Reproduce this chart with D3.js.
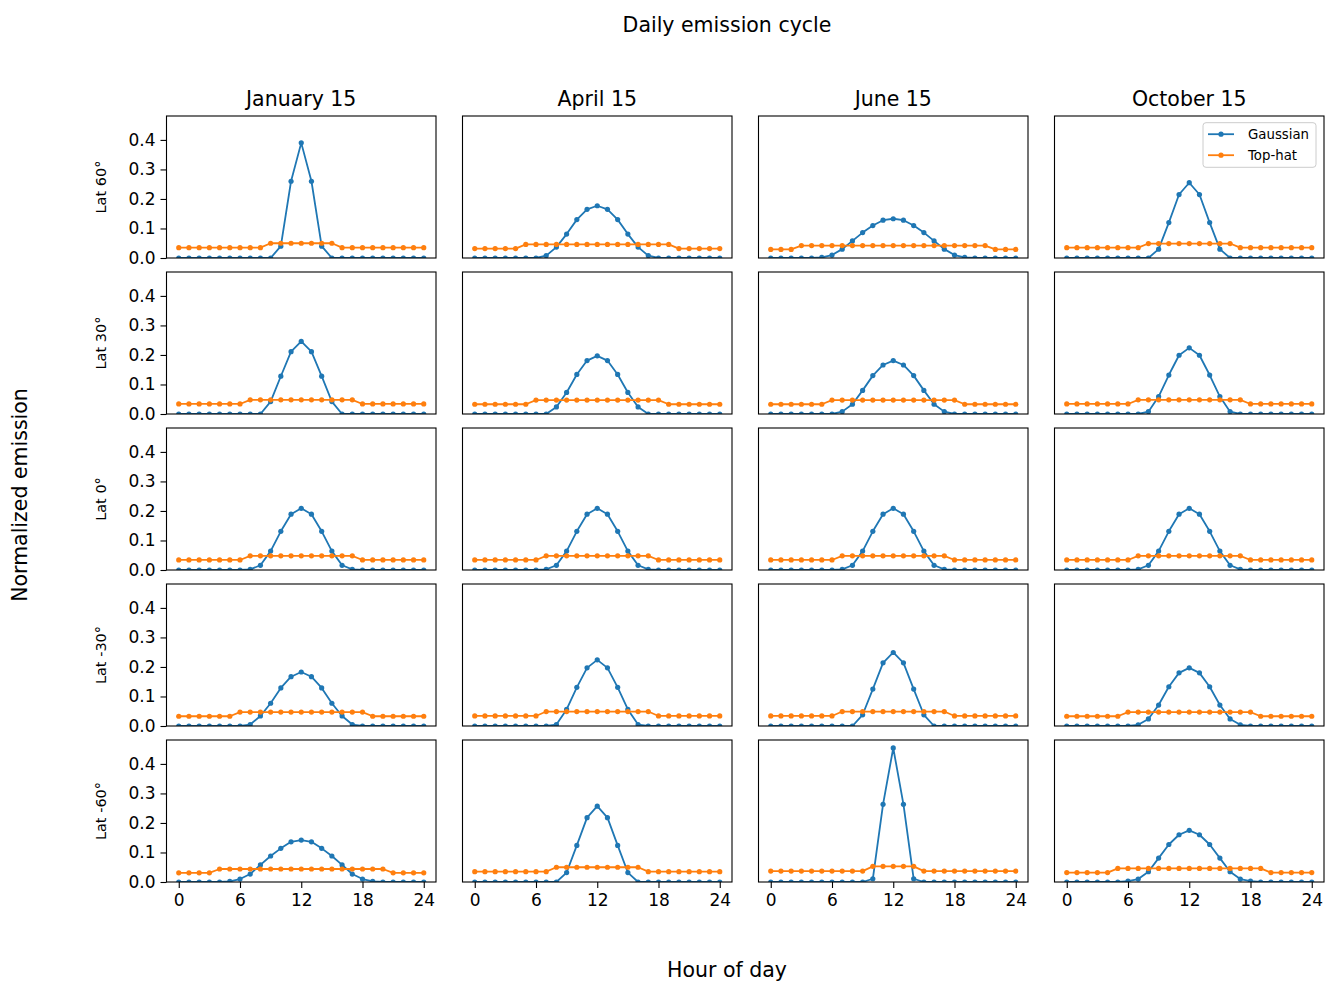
<!DOCTYPE html>
<html>
<head>
<meta charset="utf-8">
<script src="https://cdn.jsdelivr.net/npm/d3@7/dist/d3.min.js"></script>
<style>
  html, body { margin: 0; padding: 0; background: #fff; }
  text { font-family: "DejaVu Sans", sans-serif; fill: #000; }
</style>
</head>
<body>
<svg id="chart" width="1325" height="981"></svg>
<script>
// ---------------- DATA ----------------
const hours = [0,1,2,3,4,5,6,7,8,9,10,11,12,13,14,15,16,17,18,19,20,21,22,23,24];
const monthTitles = ["January 15", "April 15", "June 15", "October 15"];
const latLabels = ["Lat 60°", "Lat 30°", "Lat 0°", "Lat -30°", "Lat -60°"];
const seriesNames = ["Gaussian", "Top-hat"];
const xTicks = [0, 6, 12, 18, 24];
const yTicks = [0.0, 0.1, 0.2, 0.3, 0.4];

// Gaussian series (per month, per latitude)
const gJanP60 = [0,0,0,0,0,0,0,0,0,0, .040,.260,.390,.260,.040, 0,0,0,0,0,0,0,0,0,0];
const gJanP30 = [0,0,0,0,0,0,0,0,0, .042,.128,.211,.246,.211,.128,.042, 0,0,0,0,0,0,0,0,0];
const gJanEq  = [0,0,0,0,0,0,0, .002,.016,.064,.131,.189,.209,.189,.131,.064,.016,.002, 0,0,0,0,0,0,0];
const gJanM30 = [0,0,0,0,0,0,0, .005,.034,.077,.129,.167,.183,.167,.129,.077,.034,.005, 0,0,0,0,0,0,0];
const gJanM60 = [0,0,0,0,0, .002,.010,.027,.058,.088,.114,.136,.142,.136,.114,.088,.058,.027,.010,.002, 0,0,0,0,0];

const gAprP60 = [0,0,0,0,0,0,0, .008,.037,.081,.130,.165,.177,.165,.130,.081,.037,.008, 0,0,0,0,0,0,0];
const gAprP30 = [0,0,0,0,0,0,0,0, .024,.073,.134,.181,.197,.181,.134,.073,.024, 0,0,0,0,0,0,0,0];
const gAprEq  = [0,0,0,0,0,0,0, .002,.016,.064,.131,.189,.209,.189,.131,.064,.016,.002, 0,0,0,0,0,0,0];
const gAprM30 = [0,0,0,0,0,0,0,0, .005,.056,.131,.197,.224,.197,.131,.056,.005, 0,0,0,0,0,0,0,0];
const gAprM60 = [0,0,0,0,0,0,0,0,0, .032,.124,.218,.257,.218,.124,.032, 0,0,0,0,0,0,0,0,0];

const gJunP60 = [0,0,0,0,0, .002,.010,.030,.058,.086,.110,.128,.133,.128,.110,.086,.058,.030,.010,.002, 0,0,0,0,0];
const gJunP30 = [0,0,0,0,0,0,0, .008,.033,.080,.130,.166,.181,.166,.130,.080,.033,.008, 0,0,0,0,0,0,0];
const gJunEq  = [0,0,0,0,0,0,0, .002,.016,.064,.131,.189,.209,.189,.131,.064,.016,.002, 0,0,0,0,0,0,0];
const gJunM30 = [0,0,0,0,0,0,0,0,0, .038,.125,.214,.249,.214,.125,.038, 0,0,0,0,0,0,0,0,0];
const gJunM60 = [0,0,0,0,0,0,0,0,0,0, .011,.263,.454,.263,.011, 0,0,0,0,0,0,0,0,0,0];

const gOctP60 = [0,0,0,0,0,0,0,0,0, .030,.120,.215,.255,.215,.120,.030, 0,0,0,0,0,0,0,0,0];
const gOctP30 = [0,0,0,0,0,0,0,0, .008,.059,.132,.199,.224,.199,.132,.059,.008, 0,0,0,0,0,0,0,0];
const gOctEq  = [0,0,0,0,0,0,0, .002,.016,.064,.131,.189,.209,.189,.131,.064,.016,.002, 0,0,0,0,0,0,0];
const gOctM30 = [0,0,0,0,0,0,0, .004,.024,.071,.133,.180,.197,.180,.133,.071,.024,.004, 0,0,0,0,0,0,0];
const gOctM60 = [0,0,0,0,0,0, .003,.010,.035,.081,.127,.160,.175,.160,.127,.081,.035,.010,.003, 0,0,0,0,0,0];

// Top-hat series
const tJanP60 = [.035,.035,.035,.035,.035,.035,.035,.035,.035, .050,.050,.050,.050,.050,.050,.050, .035,.035,.035,.035,.035,.035,.035,.035,.035];
const tJanP30 = [.034,.034,.034,.034,.034,.034,.034, .048,.048,.048,.048,.048,.048,.048,.048,.048,.048,.048, .034,.034,.034,.034,.034,.034,.034];
const tJanEq  = [.034,.034,.034,.034,.034,.034,.034, .048,.048,.048,.048,.048,.048,.048,.048,.048,.048,.048, .034,.034,.034,.034,.034,.034,.034];
const tJanM30 = [.033,.033,.033,.033,.033,.033, .047,.047,.047,.047,.047,.047,.047,.047,.047,.047,.047,.047,.047, .033,.033,.033,.033,.033,.033];
const tJanM60 = [.031,.031,.031,.031, .044,.044,.044,.044,.044,.044,.044,.044,.044,.044,.044,.044,.044,.044,.044,.044,.044, .031,.031,.031,.031];

const tAprP60 = [.032,.032,.032,.032,.032, .046,.046,.046,.046,.046,.046,.046,.046,.046,.046,.046,.046,.046,.046,.046, .032,.032,.032,.032,.032];
const tAprP30 = [.033,.033,.033,.033,.033,.033, .047,.047,.047,.047,.047,.047,.047,.047,.047,.047,.047,.047,.047, .033,.033,.033,.033,.033,.033];
const tAprEq  = [.034,.034,.034,.034,.034,.034,.034, .048,.048,.048,.048,.048,.048,.048,.048,.048,.048,.048, .034,.034,.034,.034,.034,.034,.034];
const tAprM30 = [.034,.034,.034,.034,.034,.034,.034, .049,.049,.049,.049,.049,.049,.049,.049,.049,.049,.049, .034,.034,.034,.034,.034,.034,.034];
const tAprM60 = [.035,.035,.035,.035,.035,.035,.035,.035, .050,.050,.050,.050,.050,.050,.050,.050,.050, .035,.035,.035,.035,.035,.035,.035,.035];

const tJunP60 = [.029,.029,.029, .042,.042,.042,.042,.042,.042,.042,.042,.042,.042,.042,.042,.042,.042,.042,.042,.042,.042,.042, .029,.029,.029];
const tJunP30 = [.033,.033,.033,.033,.033,.033, .047,.047,.047,.047,.047,.047,.047,.047,.047,.047,.047,.047,.047, .033,.033,.033,.033,.033,.033];
const tJunEq  = [.034,.034,.034,.034,.034,.034,.034, .048,.048,.048,.048,.048,.048,.048,.048,.048,.048,.048, .034,.034,.034,.034,.034,.034,.034];
const tJunM30 = [.034,.034,.034,.034,.034,.034,.034, .049,.049,.049,.049,.049,.049,.049,.049,.049,.049,.049, .034,.034,.034,.034,.034,.034,.034];
const tJunM60 = [.037,.037,.037,.037,.037,.037,.037,.037,.037,.037, .053,.053,.053,.053,.053, .037,.037,.037,.037,.037,.037,.037,.037,.037,.037];

const tOctP60 = [.035,.035,.035,.035,.035,.035,.035,.035, .049,.049,.049,.049,.049,.049,.049,.049,.049, .035,.035,.035,.035,.035,.035,.035,.035];
const tOctP30 = [.034,.034,.034,.034,.034,.034,.034, .048,.048,.048,.048,.048,.048,.048,.048,.048,.048,.048, .034,.034,.034,.034,.034,.034,.034];
const tOctEq  = [.034,.034,.034,.034,.034,.034,.034, .048,.048,.048,.048,.048,.048,.048,.048,.048,.048,.048, .034,.034,.034,.034,.034,.034,.034];
const tOctM30 = [.033,.033,.033,.033,.033,.033, .047,.047,.047,.047,.047,.047,.047,.047,.047,.047,.047,.047,.047, .033,.033,.033,.033,.033,.033];
const tOctM60 = [.032,.032,.032,.032,.032, .046,.046,.046,.046,.046,.046,.046,.046,.046,.046,.046,.046,.046,.046,.046, .032,.032,.032,.032,.032];

// table [latRow][monthCol] -> [gaussian, tophat]
const grid = [
  [[gJanP60,tJanP60],[gAprP60,tAprP60],[gJunP60,tJunP60],[gOctP60,tOctP60]],
  [[gJanP30,tJanP30],[gAprP30,tAprP30],[gJunP30,tJunP30],[gOctP30,tOctP30]],
  [[gJanEq, tJanEq ],[gAprEq, tAprEq ],[gJunEq, tJunEq ],[gOctEq, tOctEq ]],
  [[gJanM30,tJanM30],[gAprM30,tAprM30],[gJunM30,tJunM30],[gOctM30,tOctM30]],
  [[gJanM60,tJanM60],[gAprM60,tAprM60],[gJunM60,tJunM60],[gOctM60,tOctM60]]
];

// ---------------- LAYOUT ----------------
const colors = ["#1f77b4", "#ff7f0e"];
const panelW = 269.5, panelH = 142;
const colX = c => 166.5 + c * 296;
const rowY = r => 116 + r * 156;

const x = d3.scaleLinear().domain([-1.2, 25.2]).range([0, panelW]);
const y = d3.scaleLinear().domain([0, 0.481]).range([panelH, 0]);

const svg = d3.select("#chart");
svg.append("rect").attr("width", 1325).attr("height", 981).attr("fill", "#fff");

// Suptitle & shared labels
svg.append("text").attr("x", 727).attr("y", 32).attr("text-anchor", "middle")
  .style("font-size", "20.5px").text("Daily emission cycle");
svg.append("text").attr("x", 727).attr("y", 977).attr("text-anchor", "middle")
  .style("font-size", "20.5px").text("Hour of day");
svg.append("text").attr("transform", "translate(19.5,495) rotate(-90)")
  .attr("text-anchor", "middle").attr("dominant-baseline", "central")
  .style("font-size", "20.5px").text("Normalized emission");

const line = d3.line().x((d, i) => x(hours[i])).y(d => y(d));

grid.forEach((row, r) => {
  row.forEach((cell, c) => {
    const g = svg.append("g").attr("transform", `translate(${colX(c)},${rowY(r)})`);
    const clipId = `clip-${r}-${c}`;
    g.append("clipPath").attr("id", clipId)
      .append("rect").attr("x", 0).attr("y", 0).attr("width", panelW).attr("height", panelH);

    const plot = g.append("g").attr("clip-path", `url(#${clipId})`);
    cell.forEach((series, s) => {
      plot.append("path").datum(series)
        .attr("d", line).attr("fill", "none")
        .attr("stroke", colors[s]).attr("stroke-width", 1.8)
        .attr("stroke-linejoin", "round");
      plot.selectAll(null).data(series).enter().append("circle")
        .attr("cx", (d, i) => x(hours[i])).attr("cy", d => y(d))
        .attr("r", 2.6).attr("fill", colors[s]);
    });

    // Y axis on first column
    if (c === 0) {
      const ya = g.append("g").call(d3.axisLeft(y).tickValues(yTicks)
        .tickFormat(d3.format(".1f")).tickSize(6).tickPadding(5));
      ya.select(".domain").remove();
      ya.selectAll("line").attr("stroke", "#000").attr("stroke-width", 1.1);
      ya.selectAll("text").style("font-size", "17px").style("font-family", "DejaVu Sans");
      g.append("text")
        .attr("transform", `translate(${100.5 - colX(0)},${panelH / 2}) rotate(-90)`)
        .attr("text-anchor", "middle").attr("dominant-baseline", "central")
        .style("font-size", "14.5px").text(latLabels[r]);
    }
    // X axis on bottom row
    if (r === grid.length - 1) {
      const xa = g.append("g").attr("transform", `translate(0,${panelH})`)
        .call(d3.axisBottom(x).tickValues(xTicks).tickFormat(d3.format("d"))
        .tickSize(6).tickPadding(5.5));
      xa.select(".domain").remove();
      xa.selectAll("line").attr("stroke", "#000").attr("stroke-width", 1.1);
      xa.selectAll("text").style("font-size", "17px").style("font-family", "DejaVu Sans");
    }
    // Column titles on top row
    if (r === 0) {
      g.append("text").attr("x", panelW / 2).attr("y", -10).attr("text-anchor", "middle")
        .style("font-size", "20.5px").text(monthTitles[c]);
    }
    // Frame
    g.append("rect").attr("x", 0).attr("y", 0).attr("width", panelW).attr("height", panelH)
      .attr("fill", "none").attr("stroke", "#000").attr("stroke-width", 1.1);

    // Legend in top-right panel
    if (r === 0 && c === 3) {
      const lg = g.append("g").attr("transform", `translate(${1203 - colX(3)},${122.7 - rowY(0)})`);
      lg.append("rect").attr("width", 113).attr("height", 44.6).attr("rx", 3)
        .attr("fill", "#fff").attr("fill-opacity", 0.8)
        .attr("stroke", "#cccccc").attr("stroke-width", 1);
      seriesNames.forEach((name, i) => {
        const yy = 11.5 + i * 21;
        lg.append("line").attr("x1", 5).attr("x2", 31).attr("y1", yy).attr("y2", yy)
          .attr("stroke", colors[i]).attr("stroke-width", 1.8);
        lg.append("circle").attr("cx", 18).attr("cy", yy).attr("r", 2.6).attr("fill", colors[i]);
        lg.append("text").attr("x", 45).attr("y", yy).attr("dominant-baseline", "central")
          .style("font-size", "13.3px").text(name);
      });
    }
  });
});
</script>
</body>
</html>
